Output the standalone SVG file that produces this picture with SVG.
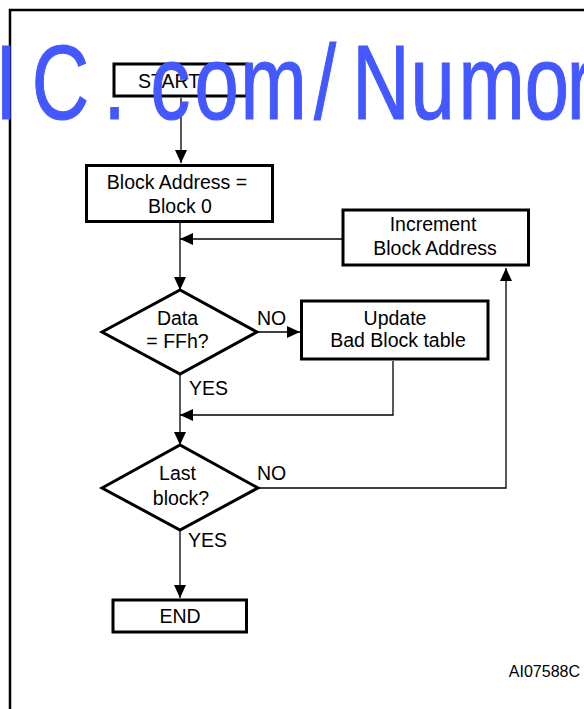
<svg xmlns="http://www.w3.org/2000/svg" width="584" height="709" viewBox="0 0 584 709">
<defs>
<style>
.node{fill:#fff;stroke:#000;stroke-width:3}
.t{font-family:"Liberation Sans",Arial,sans-serif;font-size:19.5px;fill:#000;text-anchor:middle}
.ts{text-anchor:start}
.c{fill:none;stroke:#000;stroke-width:1.3}
.wm{font-family:"Liberation Sans",Arial,sans-serif;font-size:106px;fill:#4458ff;stroke:#4458ff;stroke-width:1.2;text-anchor:middle}
</style>
<marker id="ah" markerUnits="userSpaceOnUse" markerWidth="14" markerHeight="12" viewBox="0 0 14 12" refX="13" refY="6" orient="auto">
<path d="M0,0 L13,6 L0,12 Z" fill="#000"/>
</marker>
</defs>
<rect width="584" height="709" fill="#fff"/>
<path d="M10,709 V10 H584" fill="none" stroke="#000" stroke-width="2.5"/>

<g id="connectors">
<path class="c" d="M181,98 V163" marker-end="url(#ah)"/>
<path class="c" d="M180,223 V290" marker-end="url(#ah)"/>
<path class="c" d="M342,239 H180" marker-end="url(#ah)"/>
<path class="c" d="M257,332 H300" marker-end="url(#ah)"/>
<path class="c" d="M393,361 V415 H180" marker-end="url(#ah)"/>
<path class="c" d="M180,374 V445" marker-end="url(#ah)"/>
<path class="c" d="M258,488 H506 V268" marker-end="url(#ah)"/>
<path class="c" d="M180,530 V598" marker-end="url(#ah)"/>
</g>

<g id="start">
<rect class="node" x="114" y="64" width="133" height="32"/>
<text class="t" x="169" y="88">START</text>
</g>
<g id="block0">
<rect class="node" x="86.5" y="165.5" width="186" height="56"/>
<text class="t" x="177" y="189">Block Address =</text>
<text class="t" x="180" y="213">Block 0</text>
</g>
<g id="increment">
<rect class="node" x="343" y="210" width="185.5" height="55"/>
<text class="t" x="433" y="231">Increment</text>
<text class="t" x="435" y="255">Block Address</text>
</g>
<g id="dataCheck">
<polygon class="node" points="102,332 180,290 257,332 180,374"/>
<text class="t" x="177.5" y="325">Data</text>
<text class="t" x="177.5" y="348">= FFh?</text>
</g>
<g id="update">
<rect class="node" x="301.5" y="301" width="186.5" height="58"/>
<text class="t" x="395" y="325">Update</text>
<text class="t" x="398" y="347">Bad Block table</text>
</g>
<g id="lastCheck">
<polygon class="node" points="102,488 180,445 258,488 180,530"/>
<text class="t" x="177.5" y="480">Last</text>
<text class="t" x="181" y="505">block?</text>
</g>
<g id="end">
<rect class="node" x="113" y="600" width="133.5" height="32"/>
<text class="t" x="180" y="623">END</text>
</g>
<g id="labels">
<text class="t ts" x="257" y="325">NO</text>
<text class="t ts" x="189" y="395">YES</text>
<text class="t ts" x="257" y="480">NO</text>
<text class="t ts" x="188" y="547">YES</text>
<text class="t" x="580" y="677" style="font-size:16px;text-anchor:end">AI07588C</text>
</g>
<g id="watermark">
<text class="wm" transform="scale(0.75,1)" x="8.4 80.7 152.7 227.3 288.7 364.7 433.3 508 576.7 655.6 729.3 773.3" y="119">IC.com/Numor</text>
</g>
</svg>
